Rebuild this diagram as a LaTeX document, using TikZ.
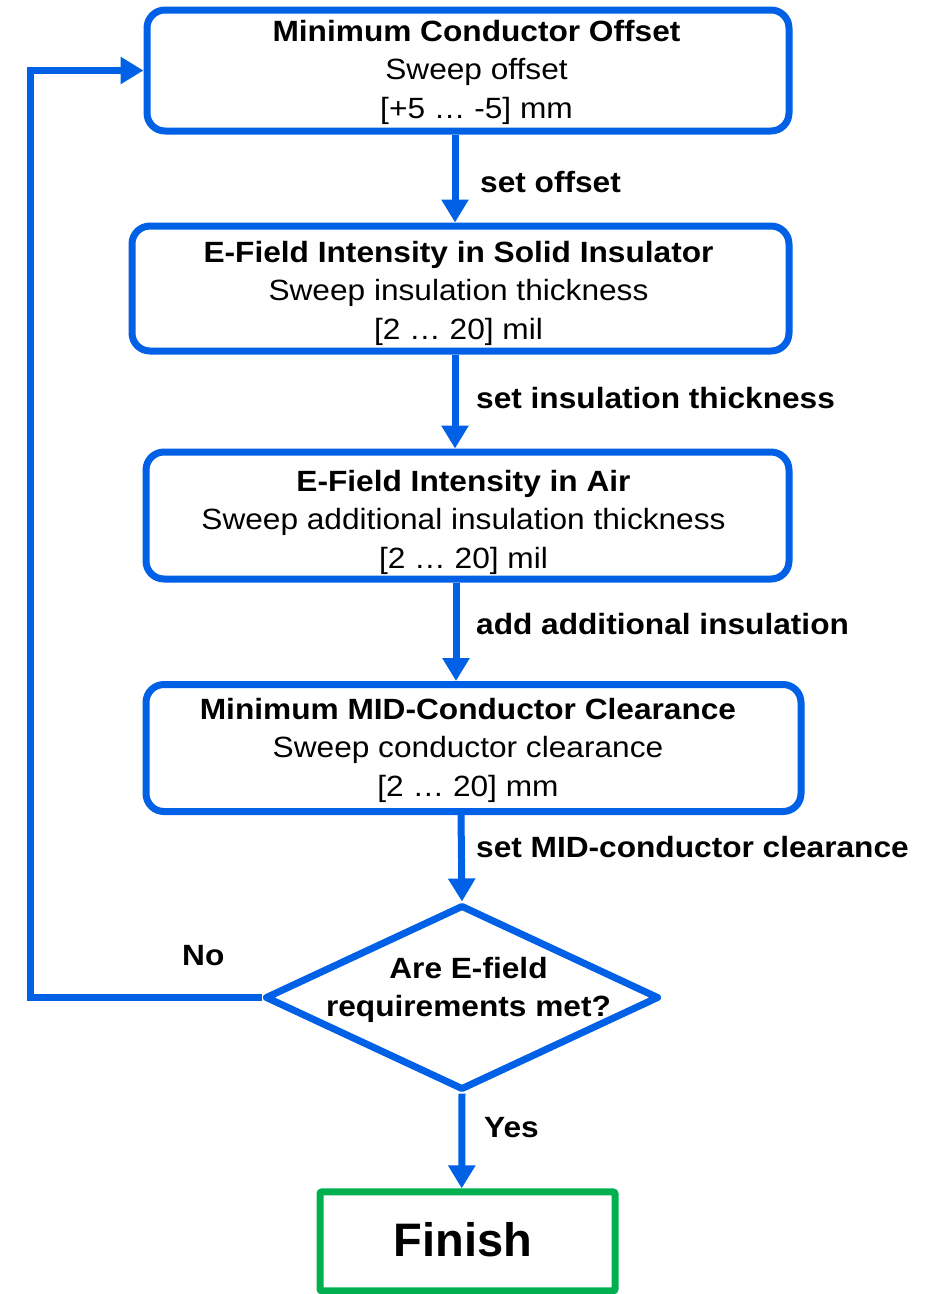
\documentclass[tikz,border=0pt]{standalone}
\usepackage{fontspec}
\setmainfont{Liberation Sans}[FakeStretch=1.08]
\newfontfamily\finfont{Liberation Sans}
\usetikzlibrary{arrows.meta,shapes.geometric}
\definecolor{flowblue}{RGB}{0,96,230}
\definecolor{flowgreen}{RGB}{0,176,80}
\begin{document}
\begin{tikzpicture}[x=1pt,y=-1pt,
  box/.style={draw=flowblue, line width=7pt, rounded corners=18pt, inner sep=0pt},
  txt/.style={align=center, inner sep=0pt, font=\fontsize{29.3}{38.5}\selectfont},
  lbl/.style={anchor=west, inner sep=0pt, font=\fontsize{29.3}{38.5}\selectfont\bfseries, text height=21pt, text depth=0pt},
  conn/.style={draw=flowblue, line width=7pt, -{Triangle[length=23pt,width=26pt]}},
]
\useasboundingbox (0,0) rectangle (937,1294);

% boxes
\node[box, minimum width=642pt, minimum height=121pt] (b1) at (468,70.5) {};
\node[box, minimum width=657pt, minimum height=125pt] (b2) at (460.5,288.5) {};
\node[box, minimum width=643pt, minimum height=127pt] (b3) at (467.5,515.5) {};
\node[box, minimum width=655pt, minimum height=127pt] (b4) at (473.5,748) {};
\node[diamond, draw=flowblue, line width=7pt, line join=round, inner sep=0pt,
      minimum width=394pt, minimum height=185pt] (d) at (462,997.5) {};
\node[draw=flowgreen, line width=7pt, rounded corners=2pt, inner sep=0pt,
      minimum width=295pt, minimum height=99pt] (fin) at (467.5,1241.4) {};

% texts
\node[txt] (t1) at (476.5,72) {\textbf{Minimum Conductor Offset}\\Sweep offset\\{[+5 … -5] mm}};
\node[txt] (t2) at (458.5,293) {\textbf{E-Field Intensity in Solid Insulator}\\Sweep insulation thickness\\{[2 … 20] mil}};
\node[txt] (t3) at (463.5,522) {\textbf{E-Field Intensity in Air}\\Sweep additional insulation thickness\\{[2 … 20] mil}};
\node[txt] (t4) at (468,750) {\textbf{Minimum MID-Conductor Clearance}\\Sweep conductor clearance\\{[2 … 20] mm}};
\node[txt, font=\fontsize{29.3}{38.6}\selectfont\bfseries] (dt) at (468.5,990) {Are E-field\\requirements met?};
\node[inner sep=0pt, font=\finfont\fontsize{47}{50}\selectfont\bfseries] (ft) at (463,1240) {Finish};

% connectors
\coordinate (x1) at (455,0);
\coordinate (x2) at (455,0);
\coordinate (x3) at (456,0);
\coordinate (x4) at (461,0);
\coordinate (x5) at (461.7,0);
\coordinate (lp) at (30,0);
\draw[conn] (x1 |- b1.south) -- (x1 |- b2.north);
\draw[conn] (x2 |- b2.south) -- (x2 |- b3.north);
\draw[conn] (x3 |- b3.south) -- (x3 |- b4.north);
\draw[conn] (x4 |- b4.south) -- (d.north);
\draw[conn] (d.south) -- (x5 |- fin.north);
\draw[conn] (d.west) -- (lp |- d.west) -- (lp |- b1.west) -- (b1.west);

% labels
\node[lbl] (l1) at (480,182) {set offset};
\node[lbl] (l2) at (476,398) {set insulation thickness};
\node[lbl] (l3) at (476,624) {add additional insulation};
\node[lbl] (l4) at (476,847) {set MID-conductor clearance};
\node[lbl] (l5) at (484,1127) {Yes};
\node[lbl] (l6) at (182,955) {No};
\end{tikzpicture}
\end{document}
